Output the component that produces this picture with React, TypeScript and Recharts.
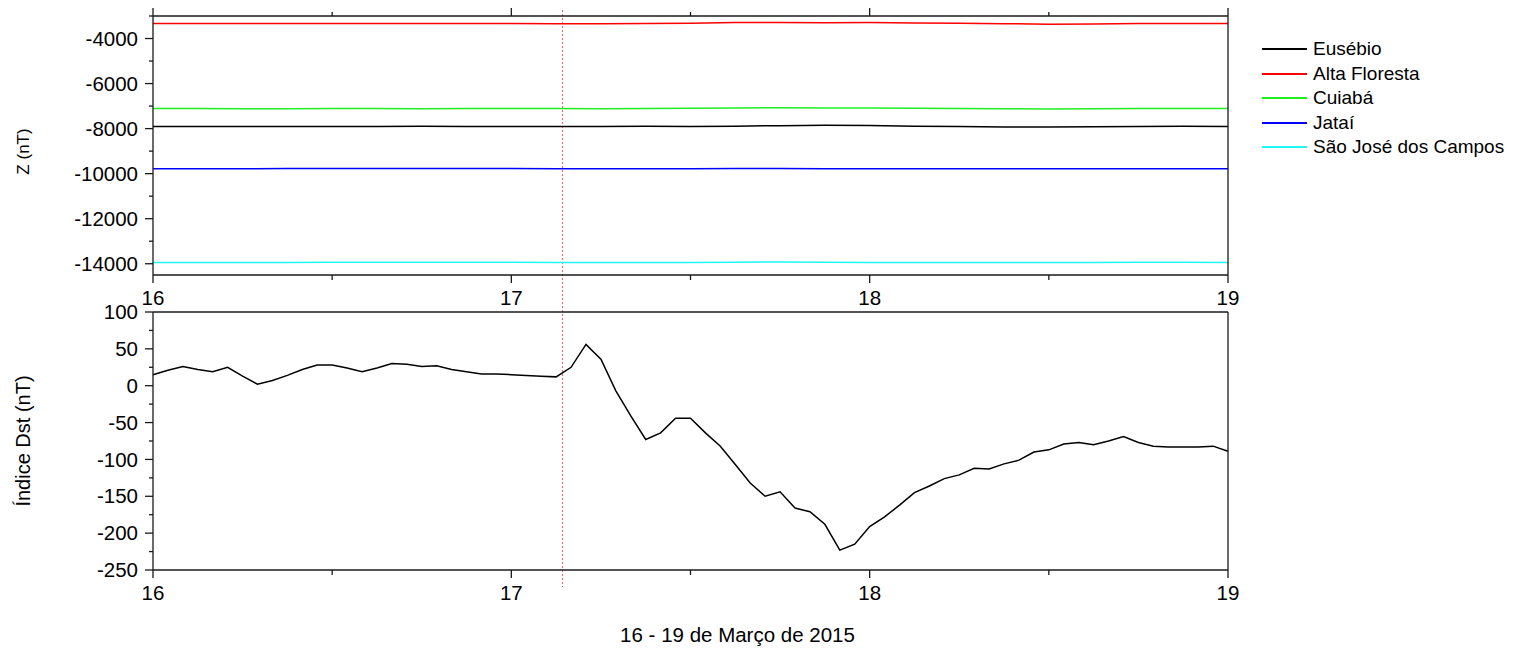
import { LineChart, Line, XAxis, YAxis, Legend, ReferenceLine } from 'recharts';

const FONT = '"Liberation Sans", Arial, Helvetica, sans-serif';
const AXIS = '#1a1a1a';

// hours after 16 Mar 2015 00:00 UT, 3 h steps for the Z records
const zHours = [0, 3, 6, 9, 12, 15, 18, 21, 24, 27, 30, 33, 36, 39, 42, 45, 48, 51, 54, 57, 60, 63, 66, 69, 72];
const eusebio = [-7905, -7910, -7905, -7910, -7910, -7905, -7900, -7905, -7910, -7905, -7910, -7900, -7905, -7890, -7870, -7855, -7865, -7890, -7905, -7925, -7930, -7920, -7905, -7895, -7910];
const altaFloresta = [-3330, -3330, -3330, -3335, -3335, -3330, -3330, -3335, -3335, -3340, -3340, -3335, -3320, -3290, -3290, -3300, -3290, -3310, -3325, -3340, -3370, -3350, -3330, -3335, -3330];
const cuiaba = [-7110, -7110, -7115, -7115, -7110, -7110, -7115, -7110, -7110, -7110, -7115, -7110, -7100, -7085, -7075, -7080, -7090, -7100, -7110, -7120, -7125, -7120, -7110, -7110, -7110];
const jatai = [-9780, -9780, -9780, -9775, -9770, -9770, -9770, -9770, -9775, -9780, -9785, -9780, -9780, -9775, -9770, -9780, -9785, -9785, -9785, -9785, -9785, -9785, -9780, -9780, -9780];
const saoJose = [-13940, -13950, -13945, -13940, -13935, -13935, -13935, -13935, -13935, -13940, -13945, -13940, -13940, -13930, -13925, -13935, -13940, -13940, -13945, -13950, -13945, -13940, -13935, -13935, -13940];

// hourly Dst index
const dstHours = [
  0, 1, 2, 3, 4, 5, 6, 7, 8, 9, 10, 11, 12, 13, 14, 15, 16, 17, 18, 19, 20, 21, 22, 23, 24,
  25, 26, 27, 28, 29, 30, 31, 32, 33, 34, 35, 36, 37, 38, 39, 40, 41, 42, 43, 44, 45, 46, 47, 48,
  49, 50, 51, 52, 53, 54, 55, 56, 57, 58, 59, 60, 61, 62, 63, 64, 65, 66, 67, 68, 69, 70, 71, 72,
];
const dst = [
  15, 21, 26, 22, 19, 25, 13, 2, 7, 14, 22, 28, 28, 24, 19, 24, 30, 29, 26, 27, 22, 19, 16, 16, 15,
  14, 13, 12, 25, 56, 36, -7, -41, -73, -64, -44, -44, -64, -82, -107, -132, -150, -144, -166, -171, -188, -223, -215, -191,
  -178, -162, -145, -136, -126, -121, -112, -113, -106, -101, -90, -87, -79, -77, -80, -75, -69, -77, -82, -83, -83, -83, -82, -89,
];

const startDay = 16;
const dayTicks = [16, 16.5, 17, 17.5, 18, 18.5, 19];
const zTicks = [-14000, -13000, -12000, -11000, -10000, -9000, -8000, -7000, -6000, -5000, -4000, -3000];
const dstTicks = [-250, -225, -200, -175, -150, -125, -100, -75, -50, -25, 0, 25, 50, 75, 100];
const stormOnset = 17.14;
const legendOrder = ['Eusébio', 'Alta Floresta', 'Cuiabá', 'Jataí', 'São José dos Campos'];

const zData = zHours.map((h, i) => ({
  t: startDay + h / 24,
  eusebio: eusebio[i],
  altaFloresta: altaFloresta[i],
  cuiaba: cuiaba[i],
  jatai: jatai[i],
  saoJose: saoJose[i],
}));
const dstData = dstHours.map((h, i) => ({ t: startDay + h / 24, dst: dst[i] }));

const isInt = (v: number) => Number.isInteger(v);
const zMajor = (v: number) => v % 2000 === 0;
const dstMajor = (v: number) => v % 50 === 0;

const leftTick = (major: (v: number) => boolean) => (props: any) => {
  const { x, y, payload } = props;
  const big = major(payload.value);
  return (
    <g>
      <line x1={x} x2={x - (big ? 8 : 4)} y1={y} y2={y} stroke={AXIS} strokeWidth={1.3} />
      {big && (
        <text x={x - 15} y={y} dy="0.35em" textAnchor="end" fontFamily={FONT} fontSize={20.5} fill="#000">
          {payload.value}
        </text>
      )}
    </g>
  );
};

const bottomTick = (props: any) => {
  const { x, y, payload } = props;
  const big = isInt(payload.value);
  return (
    <g>
      <line x1={x} x2={x} y1={y} y2={y + (big ? 8 : 5)} stroke={AXIS} strokeWidth={1.3} />
      {big && (
        <text x={x} y={y + 15} dy="0.71em" textAnchor="middle" fontFamily={FONT} fontSize={20.5} fill="#000">
          {payload.value}
        </text>
      )}
    </g>
  );
};

const topTick = (props: any) => {
  const { x, y, payload } = props;
  const big = isInt(payload.value);
  return <line x1={x} x2={x} y1={y} y2={y - (big ? 8 : 4)} stroke={AXIS} strokeWidth={1.3} />;
};

const onsetLine = (above: number, below: number) => (p: any) => {
  const x = Math.round(p.x1) + 0.5;
  return (
    <line
      x1={x}
      x2={x}
      y1={Math.min(p.y1, p.y2) - above}
      y2={Math.max(p.y1, p.y2) + below}
      stroke="#ff5a5a"
      strokeWidth={1}
      strokeDasharray="2 2"
    />
  );
};

const yLabel = (text: string, size: number, dx: number, dy: number) => (p: any) => {
  const vb = p.viewBox || { x: 0, y: 0, width: 0, height: 0 };
  const cx = vb.x + dx;
  const cy = vb.y + vb.height / 2 + dy;
  return (
    <text x={cx} y={cy} dy="0.35em" textAnchor="middle" transform={`rotate(-90, ${cx}, ${cy})`} fontFamily={FONT} fontSize={size} fill="#000">
      {text}
    </text>
  );
};

const xLabel = (p: any) => {
  const vb = p.viewBox || { x: 0, y: 0, width: 0, height: 0 };
  return (
    <text x={vb.x + vb.width / 2 + 47} y={vb.y + 65} dy="0.35em" textAnchor="middle" fontFamily={FONT} fontSize={20.5} fill="#000">
      16 - 19 de Março de 2015
    </text>
  );
};

function StationLegend({ payload }: any) {
  const items = [...(payload || [])].sort((a: any, b: any) => legendOrder.indexOf(a.value) - legendOrder.indexOf(b.value));
  return (
    <div style={{ fontFamily: FONT, fontSize: 19, color: '#000' }}>
      {items.map((e: any) => (
        <div key={e.value} style={{ display: 'flex', alignItems: 'center', height: 24.5 }}>
          <span style={{ display: 'inline-block', width: 45, height: 2, background: e.color, marginRight: 6 }} />
          <span style={{ whiteSpace: 'nowrap', lineHeight: '24.5px' }}>{e.value}</span>
        </div>
      ))}
    </div>
  );
}

const axisLine = { stroke: AXIS, strokeWidth: 1.3 };

export default function App() {
  return (
    <div style={{ position: 'absolute', left: 0, top: 0, width: 1520, height: 649, background: '#fff' }}>
      <div style={{ position: 'absolute', left: 0, top: 0 }}>
        <LineChart width={1520} height={310} data={zData} margin={{ top: 0, right: 282, bottom: 10, left: 0 }}>
          <XAxis
            dataKey="t"
            type="number"
            domain={[16, 19]}
            ticks={dayTicks}
            interval={0}
            height={25}
            tickSize={0}
            tickMargin={0}
            tickLine={false}
            axisLine={axisLine}
            tick={bottomTick}
          />
          <XAxis
            xAxisId="top"
            orientation="top"
            dataKey="t"
            type="number"
            domain={[16, 19]}
            ticks={dayTicks}
            interval={0}
            height={16}
            tickSize={0}
            tickMargin={0}
            tickLine={false}
            axisLine={axisLine}
            tick={topTick}
          />
          <YAxis
            type="number"
            domain={[-14500, -3000]}
            ticks={zTicks}
            interval={0}
            width={153}
            tickSize={0}
            tickMargin={0}
            tickLine={false}
            axisLine={axisLine}
            tick={leftTick(zMajor)}
            label={yLabel('Z (nT)', 17, 23, 6)}
          />
          <YAxis yAxisId="right" orientation="right" type="number" domain={[-14500, -3000]} width={10} tick={false} tickLine={false} axisLine={axisLine} />
          <ReferenceLine x={stormOnset} stroke="#ff5a5a" shape={onsetLine(6, 35)} />
          <Line dataKey="eusebio" name="Eusébio" stroke="#000000" strokeWidth={1.5} dot={false} isAnimationActive={false} />
          <Line dataKey="altaFloresta" name="Alta Floresta" stroke="#ff0000" strokeWidth={1.5} dot={false} isAnimationActive={false} />
          <Line dataKey="cuiaba" name="Cuiabá" stroke="#1fef1f" strokeWidth={1.5} dot={false} isAnimationActive={false} />
          <Line dataKey="jatai" name="Jataí" stroke="#0000ff" strokeWidth={1.5} dot={false} isAnimationActive={false} />
          <Line dataKey="saoJose" name="São José dos Campos" stroke="#22f5f5" strokeWidth={1.5} dot={false} isAnimationActive={false} />
          <Legend
            layout="horizontal"
            align="center"
            verticalAlign="middle"
            width={258}
            itemSorter={(e: any) => legendOrder.indexOf(e.value)}
            content={<StationLegend />}
            wrapperStyle={{ left: 1262, top: 37, width: 258, height: 130 }}
          />
        </LineChart>
      </div>
      <div style={{ position: 'absolute', left: 0, top: 290 }}>
        <LineChart width={1520} height={359} data={dstData} margin={{ top: 0, right: 282, bottom: 0, left: 0 }}>
          <XAxis
            dataKey="t"
            type="number"
            domain={[16, 19]}
            ticks={dayTicks}
            interval={0}
            height={79}
            tickSize={0}
            tickMargin={0}
            tickLine={false}
            axisLine={axisLine}
            tick={bottomTick}
            label={xLabel}
          />
          <XAxis xAxisId="top" orientation="top" dataKey="t" type="number" domain={[16, 19]} height={22} tick={false} tickLine={false} axisLine={axisLine} />
          <YAxis
            type="number"
            domain={[-250, 100]}
            ticks={dstTicks}
            interval={0}
            width={153}
            tickSize={0}
            tickMargin={0}
            tickLine={false}
            axisLine={axisLine}
            tick={leftTick(dstMajor)}
            label={yLabel('Índice Dst (nT)', 20, 23, 0)}
          />
          <YAxis yAxisId="right" orientation="right" type="number" domain={[-250, 100]} width={10} tick={false} tickLine={false} axisLine={axisLine} />
          <ReferenceLine x={stormOnset} stroke="#ff5a5a" shape={onsetLine(2, 17)} />
          <Line dataKey="dst" name="Dst" stroke="#000000" strokeWidth={1.5} dot={false} isAnimationActive={false} />
        </LineChart>
      </div>
    </div>
  );
}
